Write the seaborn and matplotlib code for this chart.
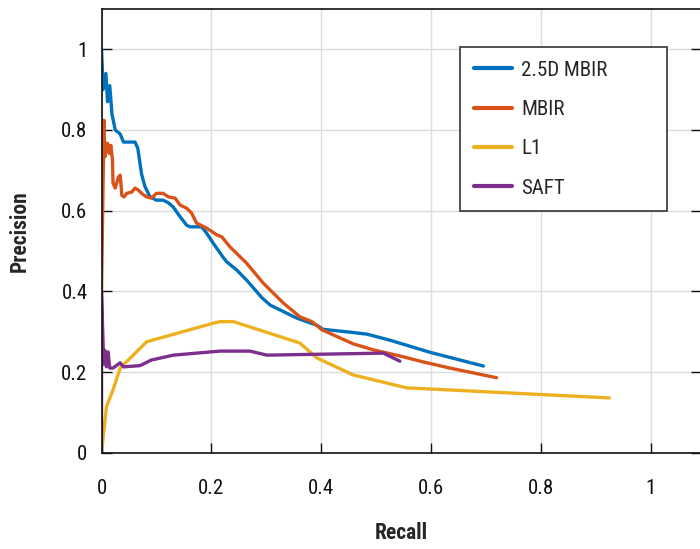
#!/usr/bin/env python3
"""
Precision-recall curves for the four reconstruction methods.
"""

import pandas as pd
import matplotlib.pyplot as plt
import seaborn as sns
from matplotlib import font_manager

# Data
methods = ["2.5D MBIR", "MBIR", "L1", "SAFT"]
colors = ["#0072BD", "#D95319", "#EDB120", "#7E2F8E"]

recall_mbir25 = [0.000, 0.003, 0.008, 0.011, 0.015, 0.019, 0.025, 0.034, 0.040, 0.052,
                 0.061, 0.066, 0.073, 0.079, 0.088, 0.100, 0.112, 0.121, 0.130, 0.143,
                 0.155, 0.161, 0.182, 0.191, 0.203, 0.221, 0.228, 0.246, 0.264, 0.282,
                 0.292, 0.307, 0.325, 0.355, 0.392, 0.403, 0.452, 0.483, 0.525, 0.598,
                 0.695]
precision_mbir25 = [1.00, 0.90, 0.94, 0.87, 0.91, 0.84, 0.80, 0.79, 0.77, 0.77,
                    0.77, 0.755, 0.69, 0.66, 0.635, 0.626, 0.626, 0.62, 0.61, 0.585,
                    0.564, 0.56, 0.56, 0.545, 0.52, 0.485, 0.473, 0.453, 0.428, 0.40,
                    0.384, 0.366, 0.354, 0.334, 0.316, 0.306, 0.299, 0.294, 0.279, 0.249,
                    0.215]

recall_mbir = [0.000, 0.0045, 0.006, 0.011, 0.014, 0.017, 0.020, 0.021, 0.025, 0.031,
               0.034, 0.037, 0.041, 0.046, 0.055, 0.061, 0.067, 0.073, 0.082, 0.091,
               0.100, 0.112, 0.122, 0.134, 0.143, 0.155, 0.164, 0.173, 0.191, 0.210,
               0.219, 0.234, 0.264, 0.294, 0.331, 0.361, 0.383, 0.401, 0.422, 0.458,
               0.495, 0.543, 0.586, 0.634, 0.719]
precision_mbir = [0.40, 0.824, 0.733, 0.767, 0.742, 0.762, 0.725, 0.668, 0.656, 0.684,
                  0.688, 0.638, 0.634, 0.643, 0.646, 0.656, 0.651, 0.643, 0.634, 0.631,
                  0.643, 0.643, 0.634, 0.631, 0.614, 0.606, 0.594, 0.569, 0.557, 0.540,
                  0.535, 0.510, 0.470, 0.421, 0.371, 0.337, 0.325, 0.305, 0.292, 0.270,
                  0.255, 0.240, 0.225, 0.210, 0.186]

recall_l1 = [0.000, 0.009, 0.021, 0.034, 0.082, 0.203, 0.216, 0.240, 0.270, 0.361,
             0.392, 0.458, 0.555, 0.924]
precision_l1 = [0.000, 0.114, 0.156, 0.210, 0.275, 0.321, 0.325, 0.325, 0.312, 0.272,
                0.235, 0.193, 0.161, 0.136]

recall_saft = [0.000, 0.000, 0.004, 0.006, 0.009, 0.012, 0.015, 0.021, 0.034, 0.040,
               0.070, 0.091, 0.131, 0.173, 0.216, 0.270, 0.301, 0.513, 0.543]
precision_saft = [0.000, 0.400, 0.220, 0.254, 0.213, 0.250, 0.210, 0.210, 0.223, 0.213,
                  0.216, 0.230, 0.242, 0.247, 0.252, 0.252, 0.242, 0.247, 0.227]

x_ticks = [0, 0.2, 0.4, 0.6, 0.8, 1]
y_ticks = [0, 0.2, 0.4, 0.6, 0.8, 1]


def build_frame():
    """Stack the four curves into one long table."""
    parts = []
    curves = [(recall_mbir25, precision_mbir25), (recall_mbir, precision_mbir),
              (recall_l1, precision_l1), (recall_saft, precision_saft)]
    for name, (r, p) in zip(methods, curves):
        part = pd.DataFrame({"Recall": r, "Precision": p})
        part["method"] = name
        parts.append(part)
    return pd.concat(parts, ignore_index=True)


def pick_font():
    """Prefer a condensed sans if one is installed."""
    names = {f.name for f in font_manager.fontManager.ttflist}
    for cand in ["Liberation Sans Narrow", "Noto Sans Condensed", "Roboto Condensed",
                 "Open Sans Condensed", "Noto Sans Display", "Lato"]:
        if cand in names:
            return cand
    return "DejaVu Sans"


def main():
    sns.set_style("ticks")
    font = pick_font()
    plt.rcParams["font.family"] = [font, "DejaVu Sans"]

    df = build_frame()

    fig = plt.figure(figsize=(7, 5.49), dpi=100)
    ax = fig.add_axes([101.5 / 700, 96.2 / 549, 599.5 / 700, 443.5 / 549])

    sns.lineplot(data=df, x="Recall", y="Precision", hue="method", hue_order=methods,
                 palette=colors, sort=False, estimator=None, units="method",
                 linewidth=2.4, ax=ax)

    ax.set_xlim(0, 1.091)
    ax.set_ylim(0, 1.099)
    ax.set_xticks(x_ticks)
    ax.set_yticks(y_ticks)
    ax.set_xticklabels(["0", "0.2", "0.4", "0.6", "0.8", "1"])
    ax.set_yticklabels(["0", "0.2", "0.4", "0.6", "0.8", "1"])
    ax.grid(True, color="#dcdcdc", linewidth=1)
    ax.set_axisbelow(True)
    ax.tick_params(direction="in", length=7, width=1, right=True, top=False,
                   labelsize=15, colors="#111111")
    ax.tick_params(axis="x", pad=19)
    ax.tick_params(axis="y", pad=10)
    for side in ["top", "left", "bottom", "right"]:
        ax.spines[side].set_color("#111111")
        ax.spines[side].set_linewidth(1.2)

    ax.set_xlabel("Recall", fontsize=15.5, fontweight="bold", labelpad=17)
    ax.set_ylabel("Precision", fontsize=15.5, fontweight="bold", labelpad=22)

    # legend box stretched to the MATLAB-like width
    leg = ax.legend(loc="upper left", mode="expand",
                    bbox_to_anchor=(460 / 700, 1 - 208 / 549, 207 / 700, 161 / 549),
                    bbox_transform=fig.transFigure, borderaxespad=0, fontsize=15,
                    handlelength=1.85, handletextpad=0.45, labelspacing=0.98,
                    borderpad=0.65, fancybox=False, framealpha=1, title=None)
    leg.get_frame().set_edgecolor("#333333")
    leg.get_frame().set_linewidth(1.2)
    for line in leg.get_lines():
        line.set_linewidth(3)

    fig.savefig("out.png", dpi=100)
    plt.close(fig)


if __name__ == "__main__":
    main()
